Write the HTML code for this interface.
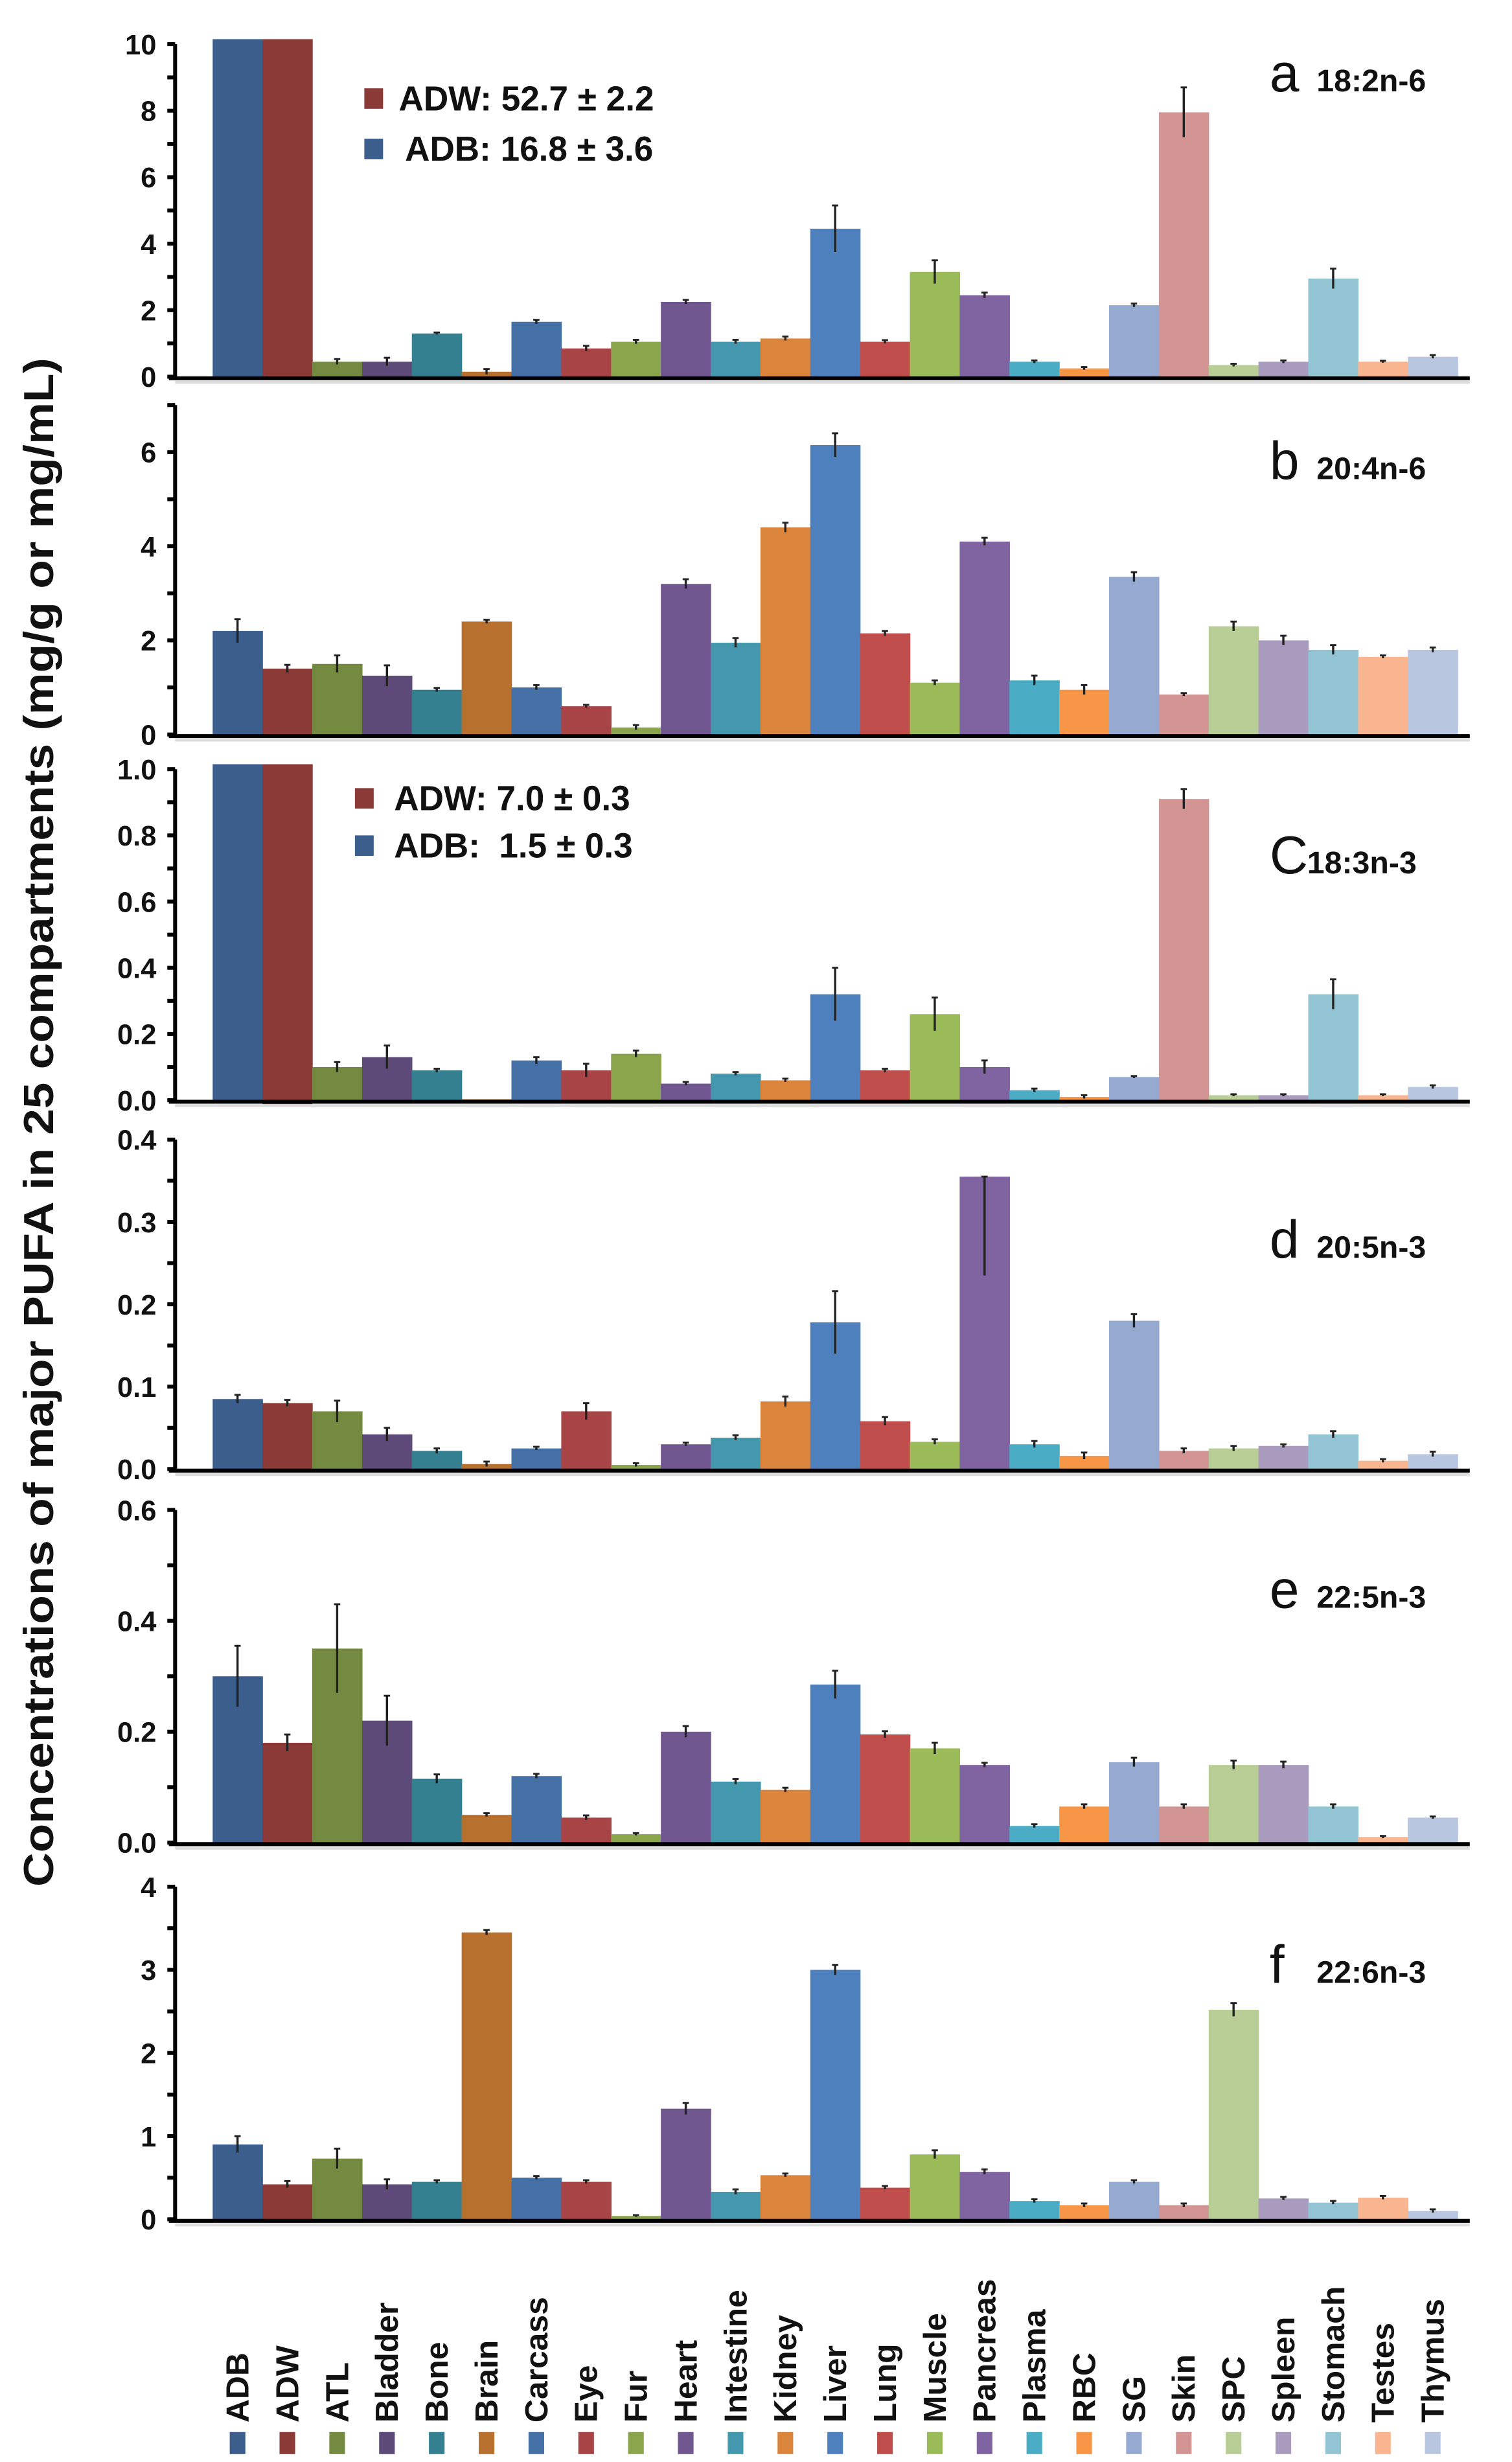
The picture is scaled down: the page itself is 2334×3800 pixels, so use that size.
<!DOCTYPE html>
<html><head><meta charset="utf-8">
<style>
html,body{margin:0;padding:0;background:#fff;}
svg{display:block;}
text{font-family:"Liberation Sans",Arial,sans-serif;}
</style></head>
<body>
<svg id="chart" width="2334" height="3800" viewBox="0 0 967 1562" preserveAspectRatio="none" xmlns="http://www.w3.org/2000/svg">
<text transform="translate(34,712) rotate(-90)" text-anchor="middle" font-size="27" font-weight="bold" fill="#111" textLength="970" lengthAdjust="spacingAndGlyphs">Concentrations of major PUFA in 25 compartments (mg/g or mg/mL)</text>
</svg>
<script>
const categories = ["ADB","ADW","ATL","Bladder","Bone","Brain","Carcass","Eye","Fur","Heart","Intestine","Kidney","Liver","Lung","Muscle","Pancreas","Plasma","RBC","SG","Skin","SPC","Spleen","Stomach","Testes","Thymus"];
const colors = ["#3B5E8C","#8B3A38","#738A40","#5E4A78","#347F90","#B8702F","#4570A6","#A84446","#8BA54C","#705790","#4398AE","#DB843C","#4E80BD","#BF4D4B","#9BBB59","#8064A2","#4BACC6","#F79646","#95A9D1","#D39593","#B9CD96","#A99BBD","#93C4D4","#F9B590","#B9C6E0"];

const valuesA = [10.2,10.2,0.45,0.45,1.3,0.15,1.65,0.85,1.05,2.25,1.05,1.15,4.45,1.05,3.15,2.45,0.45,0.25,2.15,7.95,0.35,0.45,2.95,0.45,0.6];
const errorsA = [0,0,0.08,0.12,0.03,0.08,0.06,0.08,0.06,0.06,0.06,0.06,0.7,0.05,0.35,0.08,0.04,0.04,0.05,0.75,0.04,0.04,0.3,0.03,0.05];
const valuesB = [2.2,1.4,1.5,1.25,0.95,2.4,1.0,0.6,0.15,3.2,1.95,4.4,6.15,2.15,1.1,4.1,1.15,0.95,3.35,0.85,2.3,2.0,1.8,1.65,1.8];
const errorsB = [0.25,0.08,0.18,0.22,0.04,0.04,0.05,0.03,0.05,0.1,0.1,0.1,0.25,0.05,0.05,0.08,0.1,0.1,0.1,0.03,0.1,0.1,0.1,0.03,0.05];
const valuesC = [1.02,1.02,0.1,0.13,0.09,0.003,0.12,0.09,0.14,0.05,0.08,0.06,0.32,0.09,0.26,0.10,0.03,0.01,0.07,0.91,0.015,0.015,0.32,0.015,0.04];
const errorsC = [0,0,0.015,0.035,0.005,0,0.01,0.02,0.01,0.005,0.005,0.005,0.08,0.005,0.05,0.02,0.005,0.005,0.003,0.03,0.003,0.003,0.045,0.003,0.005];
const valuesD = [0.085,0.08,0.07,0.042,0.022,0.006,0.025,0.07,0.005,0.03,0.038,0.082,0.178,0.058,0.033,0.355,0.03,0.016,0.18,0.022,0.025,0.028,0.042,0.01,0.018];
const errorsD = [0.005,0.004,0.013,0.008,0.003,0.003,0.002,0.01,0.002,0.002,0.003,0.006,0.038,0.005,0.003,0.12,0.004,0.004,0.008,0.003,0.003,0.002,0.004,0.002,0.003];
const valuesE = [0.3,0.18,0.35,0.22,0.115,0.05,0.12,0.045,0.015,0.2,0.11,0.095,0.285,0.195,0.17,0.14,0.03,0.065,0.145,0.065,0.14,0.14,0.065,0.01,0.045];
const errorsE = [0.055,0.015,0.08,0.045,0.008,0.003,0.004,0.004,0.002,0.01,0.005,0.004,0.025,0.006,0.01,0.004,0.003,0.004,0.008,0.004,0.008,0.006,0.004,0.002,0.002];
const valuesF = [0.9,0.42,0.73,0.42,0.45,3.45,0.5,0.45,0.04,1.33,0.33,0.53,3.0,0.38,0.78,0.57,0.22,0.17,0.45,0.17,2.52,0.25,0.2,0.26,0.1];
const errorsF = [0.1,0.04,0.12,0.06,0.02,0.03,0.02,0.02,0.01,0.07,0.03,0.02,0.06,0.02,0.05,0.03,0.02,0.02,0.02,0.02,0.08,0.02,0.02,0.02,0.02];

const ticksA = ["0","2","4","6","8","10"];
const ticksB = ["0","2","4","6"];
const ticksC = ["0.0","0.2","0.4","0.6","0.8","1.0"];
const ticksD = ["0.0","0.1","0.2","0.3","0.4"];
const ticksE = ["0.0","0.2","0.4","0.6"];
const ticksF = ["0","1","2","3","4"];

const NS = "http://www.w3.org/2000/svg";
const svg = document.getElementById('chart');
function mk(tag, attrs, parent){
  const e = document.createElementNS(NS, tag);
  for (const k in attrs) e.setAttribute(k, attrs[k]);
  (parent||svg).appendChild(e);
  return e;
}
const X0 = 136, SLOT = 31.85, AXL = 112, AXR = 940;
function xScale(i){ return X0 + i*SLOT; }

const panels = [
  {id:'a', vals:valuesA, errs:errorsA, ticks:ticksA, step:2, max:10, top:28, zero:239, label:'a', sub:'18:2n-6', ly:58},
  {id:'b', vals:valuesB, errs:errorsB, ticks:ticksB, step:2, max:7, top:257, zero:466, label:'b', sub:'20:4n-6', ly:304},
  {id:'c', vals:valuesC, errs:errorsC, ticks:ticksC, step:0.2, max:1.0, top:488, zero:698, label:'C', sub:'18:3n-3', ly:554},
  {id:'d', vals:valuesD, errs:errorsD, ticks:ticksD, step:0.1, max:0.4, top:723, zero:932, label:'d', sub:'20:5n-3', ly:798},
  {id:'e', vals:valuesE, errs:errorsE, ticks:ticksE, step:0.2, max:0.6, top:958, zero:1169, label:'e', sub:'22:5n-3', ly:1020},
  {id:'f', vals:valuesF, errs:errorsF, ticks:ticksF, step:1, max:4, top:1197, zero:1408, label:'f', sub:'22:6n-3', ly:1258}
];

panels.forEach(p => {
  const g = mk('g', {});
  
  
  const topTickVal = (p.ticks.length-1)*p.step;
  const pxPer = (p.zero - p.top) / (p.id==='b' ? p.max : topTickVal);
  const y = v => p.zero - v*pxPer;
  const axTop = y(p.max);
  p.vals.forEach((v,i) => {
    const vv = Math.min(v, p.max*1.015);
    const r = mk('rect', {x:xScale(i), y:y(vv), width:SLOT+0.3, height:Math.max(0.5, p.zero - y(vv)), fill:colors[i]}, g);
    
    
    const e = p.errs[i];
    if (e > 0) {
      const cx = xScale(i) + SLOT/2;
      const hi = (v + e > p.max) ? vv : v + e;
      const lo = Math.max(v - e, 0);
      const eb = mk('line', {x1:cx, x2:cx, y1:y(hi), y2:y(lo), stroke:'#222', 'stroke-width':1.4}, g);
      
      
      mk('line', {x1:cx-2, x2:cx+2, y1:y(hi), y2:y(hi), stroke:'#222', 'stroke-width':1.2}, g);
    }
  });
  if (p.id === 'c') {
    mk('rect', {x:xScale(1), y:p.zero, width:SLOT, height:4, fill:colors[1]}, g);
  }
  const ya = mk('line', {x1:AXL, x2:AXL, y1:axTop, y2:p.zero+2, stroke:'#000', 'stroke-width':2.5}, g);
  
  
  const nMinor = Math.round(p.max / (p.step/2));
  for (let k=0; k<=nMinor; k++) {
    const ty = y(k*p.step/2);
    mk('line', {x1:AXL-5, x2:AXL, y1:ty, y2:ty, stroke:'#000', 'stroke-width':2.5}, g);
  }
  p.ticks.forEach((t,k) => {
    const tl = mk('text', {x:100, y:y(k*p.step)+6.5, 'text-anchor':'end', 'font-size':18, 'font-weight':'bold', fill:'#111'}, g);
    
    
    tl.textContent = t;
  });
  mk('line', {x1:AXL, x2:AXR, y1:p.zero+3.5, y2:p.zero+3.5, stroke:'#ddd', 'stroke-width':2}, g);
  const xa = mk('line', {x1:AXL-4, x2:AXR, y1:p.zero+1, y2:p.zero+1, stroke:'#000', 'stroke-width':2.5}, g);
  
  
  const pl = mk('text', {x:812, y:p.ly, 'font-size':34, fill:'#111'}, g);
  
  
  pl.textContent = p.label;
  const ps = mk('text', {x: p.id==='c' ? 836 : 842, y:p.ly, 'font-size':20, 'font-weight':'bold', fill:'#111'}, g);
  
  
  ps.textContent = p.sub;
});

const legendItems = [
  {sq:'#8B3A38', x:233, y:56, tx:255, text:'ADW: 52.7 ± 2.2', name:'legend-adw-a'},
  {sq:'#3B5E8C', x:233, y:88, tx:259, text:'ADB: 16.8 ± 3.6', name:'legend-adb-a'},
  {sq:'#8B3A38', x:227, y:500, tx:252, text:'ADW: 7.0 ± 0.3', name:'legend-adw-c'},
  {sq:'#3B5E8C', x:227, y:530, tx:252, text:'ADB:  1.5 ± 0.3', name:'legend-adb-c'}
];
legendItems.forEach(l => {
  const g = mk('g', {});
  
  
  mk('rect', {x:l.x, y:l.y, width:12, height:13, fill:l.sq}, g);
  const t = mk('text', {x:l.tx, y:l.y+14, 'font-size':22, 'font-weight':'bold', fill:'#111'}, g);
  t.style.whiteSpace = 'pre';
  t.textContent = l.text;
});

categories.forEach((c,i) => {
  const cx = xScale(i) + SLOT/2;
  const t = mk('text', {transform:'translate(' + (cx+7) + ',1537) rotate(-90)', 'font-size':20.5, 'font-weight':'bold', fill:'#111'});
  
  
  t.textContent = c;
  const s = mk('rect', {x:cx-5, y:1543, width:10, height:14, fill:colors[i]});
  
  
});
</script>
</body></html>
